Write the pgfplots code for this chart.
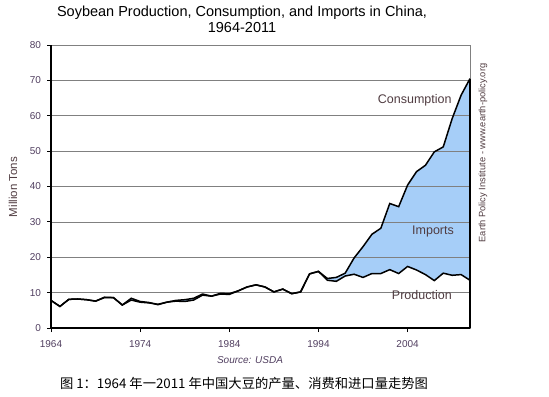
\documentclass[border=0pt]{standalone}
\usepackage{pgfplots}
\pgfplotsset{compat=1.18}
\usepackage{pgfplotstable}
\usepackage{fontspec}
\setmainfont{Liberation Sans}
\newfontfamily\cjk{Noto Sans CJK SC}
\definecolor{impblue}{RGB}{166,206,248}
\definecolor{ticklab}{RGB}{80,62,95}
\definecolor{lab}{RGB}{80,60,65}
\definecolor{gridgray}{RGB}{128,128,128}

\pgfplotstableread{
year prod cons
1964 7.8 7.8
1965 6.1 6.1
1966 8.1 8.1
1967 8.2 8.2
1968 8.0 8.0
1969 7.6 7.6
1970 8.7 8.6
1971 8.6 8.6
1972 6.5 6.5
1973 8.4 7.9
1974 7.5 7.3
1975 7.2 7.1
1976 6.6 6.7
1977 7.3 7.3
1978 7.6 7.8
1979 7.5 8.0
1980 7.9 8.4
1981 9.3 9.6
1982 9.0 9.0
1983 9.8 9.6
1984 9.7 9.5
1985 10.5 10.5
1986 11.6 11.6
1987 12.2 12.2
1988 11.6 11.6
1989 10.2 10.2
1990 11.0 11.0
1991 9.7 9.7
1992 10.2 10.2
1993 15.3 15.3
1994 16.0 16.0
1995 13.5 14.0
1996 13.2 14.3
1997 14.7 15.5
1998 15.2 19.8
1999 14.3 23.0
2000 15.4 26.5
2001 15.4 28.2
2002 16.5 35.2
2003 15.4 34.3
2004 17.4 40.4
2005 16.4 44.2
2006 15.1 46.0
2007 13.4 49.8
2008 15.5 51.2
2009 14.9 59.2
2010 15.1 65.8
2011 13.5 70.5
}\datatable

\begin{document}
\begin{tikzpicture}
\path[use as bounding box] (0,0) rectangle (549bp,-397bp);
\begin{axis}[
  at={(51bp,-328bp)}, anchor=south west,
  scale only axis, width=419bp, height=283bp,
  xmin=1964, xmax=2011, ymin=0, ymax=80,
  xtick={1964,1974,1984,1994,2004},
  ytick={0,10,...,80},
  axis line style={gridgray, line width=0.6bp},
  tick style={black, line width=0.8bp},
  tick align=outside, major tick length=4bp,
  xtick pos=left, ytick pos=left,
  /pgf/number format/assume math mode=true,
  /pgf/number format/1000 sep={},
  xticklabel style={font=\fontsize{10bp}{12bp}\selectfont, text=ticklab, yshift=-4.5bp},
  yticklabel style={font=\fontsize{10bp}{12bp}\selectfont, text=ticklab, xshift=-2.5bp},
  clip=false,
]
% imports area: consumption forward, production backward
\addplot[fill=impblue, draw=none] coordinates {
(1964,7.8)(1965,6.1)(1966,8.1)(1967,8.2)(1968,8.0)(1969,7.6)(1970,8.6)(1971,8.6)(1972,6.5)(1973,7.9)
(1974,7.3)(1975,7.1)(1976,6.7)(1977,7.3)(1978,7.8)(1979,8.0)(1980,8.4)(1981,9.6)(1982,9.0)(1983,9.6)
(1984,9.5)(1985,10.5)(1986,11.6)(1987,12.2)(1988,11.6)(1989,10.2)(1990,11.0)(1991,9.7)(1992,10.2)(1993,15.3)
(1994,16.0)(1995,14.0)(1996,14.3)(1997,15.5)(1998,19.8)(1999,23.0)(2000,26.5)(2001,28.2)(2002,35.2)(2003,34.3)
(2004,40.4)(2005,44.2)(2006,46.0)(2007,49.8)(2008,51.2)(2009,59.2)(2010,65.8)(2011,70.5)
(2011,13.5)(2010,15.1)(2009,14.9)(2008,15.5)(2007,13.4)(2006,15.1)(2005,16.4)(2004,17.4)(2003,15.4)(2002,16.5)
(2001,15.4)(2000,15.4)(1999,14.3)(1998,15.2)(1997,14.7)(1996,13.2)(1995,13.5)(1994,16.0)(1993,15.3)(1992,10.2)
(1991,9.7)(1990,11.0)(1989,10.2)(1988,11.6)(1987,12.2)(1986,11.6)(1985,10.5)(1984,9.7)(1983,9.8)(1982,9.0)
(1981,9.3)(1980,7.9)(1979,7.5)(1978,7.6)(1977,7.3)(1976,6.6)(1975,7.2)(1974,7.5)(1973,8.4)(1972,6.5)
(1971,8.6)(1970,8.7)(1969,7.6)(1968,8.0)(1967,8.2)(1966,8.1)(1965,6.1)(1964,7.8)
} \closedcycle;
\pgfplotsinvokeforeach{10,20,...,70}{
  \addplot[gridgray, line width=0.6bp, forget plot] coordinates {(1964,#1) (2011,#1)};
}
\addplot[black, line width=1.5bp] table[x=year, y=cons] {\datatable};
\addplot[black, line width=1.5bp] table[x=year, y=prod] {\datatable};
\addplot[black, line width=1.5bp] coordinates {(2011,0) (2011,70.5)};
\addplot[black, line width=1.5bp] coordinates {(1964,80) (1964,0) (2011,0)};
\node[text=lab, font=\fontsize{12.5bp}{14bp}\selectfont] at (axis cs:2004.8,64.3) {Consumption};
\node[text=lab, font=\fontsize{12.5bp}{14bp}\selectfont] at (axis cs:2006.85,27.2) {Imports};
\node[text=lab, font=\fontsize{12.5bp}{14bp}\selectfont] at (axis cs:2005.6,9.3) {Production};
\end{axis}
\node[font=\fontsize{14.5bp}{16bp}\selectfont] at (242bp,-12.5bp) {Soybean Production, Consumption, and Imports in China,};
\node[font=\fontsize{14.5bp}{16bp}\selectfont] at (242bp,-28bp) {1964-2011};
\node[text=lab, rotate=90, font=\fontsize{11.5bp}{13bp}\selectfont] at (13bp,-187bp) {Million Tons};
\node[text=ticklab, font=\fontsize{10bp}{12bp}\itshape] at (250bp,-360bp) {Source: USDA};
\node[font=\fontsize{13.3bp}{15bp}\cjk] at (244bp,-383bp) {图 1：1964 年一2011 年中国大豆的产量、消费和进口量走势图};
\node[text=lab, rotate=90, font=\fontsize{9.3bp}{11bp}\selectfont] at (483bp,-153bp) {Earth Policy Institute - www.earth-policy.org};
\end{tikzpicture}
\end{document}
